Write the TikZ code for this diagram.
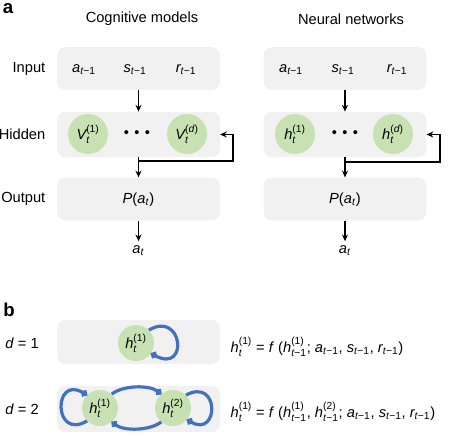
\documentclass[tikz,border=0pt]{standalone}
\usepackage{fontspec}
\setmainfont{Liberation Sans}
\usepackage{amsmath}
\usetikzlibrary{arrows.meta}
\definecolor{boxgray}{RGB}{241,241,241}
\definecolor{unitgreen}{RGB}{200,225,178}
\definecolor{loopblue}{RGB}{68,112,192}
\newcommand{\vsub}[2]{$\textit{#1}_{\text{#2}}$}
\newcommand{\vsubsup}[3]{$\textit{#1}^{\text{#3}}_{\text{#2}}$}
\newcommand{\tprev}{\textit{t}−1}
\begin{document}
\begin{tikzpicture}[x=0.75pt,y=-0.75pt,font=\fontsize{11}{13}\selectfont,
    panel/.style={fill=boxgray,rounded corners=6pt,minimum width=122pt,minimum height=32pt,inner sep=0pt},
    unit/.style={circle,fill=unitgreen,minimum size=30pt,inner sep=0pt},
    smallunit/.style={unit,minimum size=27pt},
    arr/.style={-{Stealth[length=5pt,width=4.5pt]},line width=0.9pt},
    fb/.style={draw=loopblue,line width=2.4pt,-{Circle[length=5pt,width=5pt]}},
    tag/.style={font=\fontsize{14}{16}\selectfont\bfseries}]
                \useasboundingbox (0,0) rectangle (451,446);
                % panel a
                \node[tag] (TA) at (8,9) {a};
                \node (T1) at (142,19) {Cognitive models};
                \node (T2) at (351,19) {Neural networks};
                \node[anchor=east] (L1) at (50,69) {Input};
                \node[anchor=east] (L2) at (50,134) {Hidden};
                \node[anchor=east] (L3) at (50,199) {Output};
                % cognitive models
                \node[panel] (CI) at (138.5,68.5) {};
                \node[panel,minimum height=34pt] (CH) at (138.5,134.5) {};
                \node[panel] (CO) at (138.5,199) {};
                \node (CI1) at (84,70) {\vsub{a}{\tprev}};
                \node (CI2) at (135,70) {\vsub{s}{\tprev}};
                \node (CI3) at (186,70) {\vsub{r}{\tprev}};
                \node[unit] (CV1) at (88,134) {\vsubsup{V}{\textit{t}}{(1)}};
                \node (CD) at (137,134) {\textbullet\hspace{4pt}\textbullet\hspace{4pt}\textbullet};
                \node[unit] (CVd) at (187,134) {\vsubsup{V}{\textit{t}}{(\textit{d})}};
                \node (CP) at (138.5,200) {\textit{P}(\vsub{a}{\textit{t}})};
                \node (CA) at (138.5,251) {\vsub{a}{\textit{t}}};
                \coordinate (CJ) at (138.5,161);
                \coordinate (CT) at (233,161);
                \draw [arr] (CI) -- (CH);
                \draw [arr] (CH) -- (CO);
                \draw [arr] (CJ) -- (CT) |- (CH.east);
                \draw [arr] (CO) -- (CA);
                % neural networks
                \node[panel] (NI) at (345,68.5) {};
                \node[panel,minimum height=34pt] (NH) at (345,134.5) {};
                \node[panel] (NO) at (345,199) {};
                \node (NI1) at (291,70) {\vsub{a}{\tprev}};
                \node (NI2) at (343,70) {\vsub{s}{\tprev}};
                \node (NI3) at (397,70) {\vsub{r}{\tprev}};
                \node[unit] (NH1) at (295,134) {\vsubsup{h}{\textit{t}}{(1)}};
                \node (ND) at (345,134) {\textbullet\hspace{4pt}\textbullet\hspace{4pt}\textbullet};
                \node[unit] (NHd) at (393,134) {\vsubsup{h}{\textit{t}}{(\textit{d})}};
                \node (NP) at (345,200) {\textit{P}(\vsub{a}{\textit{t}})};
                \node (NA) at (345,251) {\vsub{a}{\textit{t}}};
                \coordinate (NJ) at (345,162);
                \coordinate (NT) at (440,162);
                \draw [arr] (NI) -- (NH);
                \draw [arr] (NH) -- (NO);
                \draw [arr] (NJ) -- (NT) |- (NH.east);
                \draw [arr] (NO) -- (NA);
                % panel b
                \node[tag] (TB) at (9,310) {b};
                \node (D1) at (22,343) {\textit{d} = 1};
                \node (D2) at (22,409) {\textit{d} = 2};
                \node[panel,minimum height=33pt] (B1) at (138.5,342) {};
                \node[panel,minimum height=34.5pt] (B2) at (138.5,409) {};
                \node[smallunit] (B1H) at (136,343) {\vsubsup{h}{\textit{t}}{(1)}};
                \node[smallunit] (B2H1) at (100,408) {\vsubsup{h}{\textit{t}}{(1)}};
                \node[smallunit] (B2H2) at (173,408) {\vsubsup{h}{\textit{t}}{(2)}};
                \draw [fb] (B1H.45) .. controls +(34,-20) and +(38,20) .. (B1H.-35);
                \draw [fb] (B2H1.-135) .. controls +(-34,20) and +(-34,-20) .. (B2H1.135);
                \draw [fb] (B2H1.50) .. controls +(12,-9) and +(-12,-9) .. (B2H2.130);
                \draw [fb] (B2H2.-130) .. controls +(-12,9) and +(12,9) .. (B2H1.-50);
                \draw [fb] (B2H2.45) .. controls +(34,-18) and +(32,18) .. (B2H2.-40);
                \node[anchor=west] (F1) at (226,347) {\vsubsup{h}{\textit{t}}{(1)} = \textit{f} (\vsubsup{h}{\tprev}{(1)}; \vsub{a}{\tprev}, \vsub{s}{\tprev}, \vsub{r}{\tprev})};
                \node[anchor=west] (F2) at (226,412) {\vsubsup{h}{\textit{t}}{(1)} = \textit{f} (\vsubsup{h}{\tprev}{(1)}, \vsubsup{h}{\tprev}{(2)}; \vsub{a}{\tprev}, \vsub{s}{\tprev}, \vsub{r}{\tprev})};
            \end{tikzpicture}
\end{document}
